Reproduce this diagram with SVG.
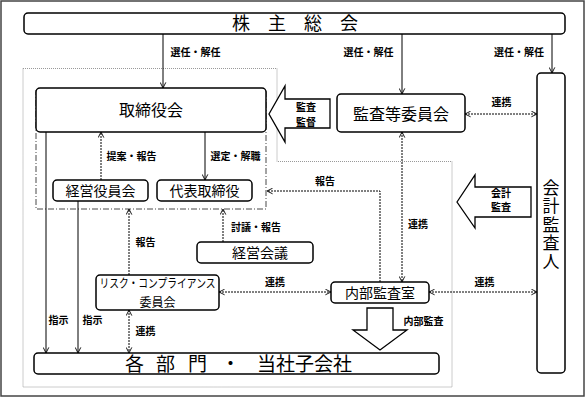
<svg xmlns="http://www.w3.org/2000/svg" width="585" height="398" viewBox="0 0 585 398">
<defs>
<style>
text{font-family:"Noto Sans CJK JP","Noto Sans CJK SC",sans-serif;fill:#000}
.box{fill:#fff;stroke:#000;stroke-width:1.5}
.big{font-size:16px}
.mid{font-size:14px}
.lbl{font-size:10px;font-weight:bold}
.c{text-anchor:middle}
.solid{fill:none;stroke:#000;stroke-width:1}
.dot{fill:none;stroke:#000;stroke-width:1;stroke-dasharray:2 1}
.fat{fill:#fff;stroke:#000;stroke-width:1.3}
.vert{writing-mode:vertical-rl;letter-spacing:1.5px;font-size:17px}
</style>
<marker id="ah" viewBox="0 0 10 10" refX="9" refY="5" markerWidth="7" markerHeight="7" orient="auto-start-reverse" markerUnits="userSpaceOnUse">
<path d="M1,1 L9,5 L1,9" fill="none" stroke="#000" stroke-width="1.3"/>
</marker>
</defs>
<rect x="1" y="1" width="583" height="395" fill="#fff" stroke="#444" stroke-width="1.5"/>
<g id="regions">
<path d="M23,68.5 H277 V161.5 H452 V387 H23 Z" fill="none" stroke="#999" stroke-width="1" stroke-dasharray="1 1"/>
<rect x="36" y="90" width="230" height="119" fill="none" stroke="#333" stroke-width="0.9" stroke-dasharray="6 2 1 2"/>
</g>
<g id="connectors">
<line class="solid" x1="163" y1="34" x2="163" y2="88" marker-end="url(#ah)"/>
<line class="solid" x1="402" y1="34" x2="402" y2="94" marker-end="url(#ah)"/>
<line class="solid" x1="552" y1="34" x2="552" y2="73" marker-end="url(#ah)"/>
<line class="dot" x1="465" y1="114" x2="537" y2="114" marker-start="url(#ah)" marker-end="url(#ah)"/>
<line class="dot" x1="402" y1="132" x2="402" y2="282" marker-start="url(#ah)" marker-end="url(#ah)"/>
<path class="dot" d="M380,282 V191 H267" marker-end="url(#ah)"/>
<line class="dot" x1="101" y1="180" x2="101" y2="132" marker-end="url(#ah)"/>
<line class="solid" x1="205" y1="132" x2="205" y2="180" marker-end="url(#ah)"/>
<line class="dot" x1="223" y1="242" x2="223" y2="209" marker-end="url(#ah)"/>
<line class="dot" x1="129" y1="275" x2="129" y2="209" marker-end="url(#ah)"/>
<line class="dot" x1="219" y1="292" x2="331" y2="292" marker-start="url(#ah)" marker-end="url(#ah)"/>
<line class="dot" x1="429" y1="292" x2="537" y2="292" marker-start="url(#ah)" marker-end="url(#ah)"/>
<line class="solid" x1="46" y1="132" x2="46" y2="353" marker-end="url(#ah)"/>
<line class="solid" x1="78" y1="201" x2="78" y2="353" marker-end="url(#ah)"/>
<line class="dot" x1="129" y1="310" x2="129" y2="353" marker-start="url(#ah)" marker-end="url(#ah)"/>
<polygon class="fat" points="269,114 285,86 285,99 330,99 330,128 285,128 285,142"/>
<polygon class="fat" points="457,202 475,175 475,187 531,187 531,217 475,217 475,228"/>
<polygon class="fat" points="367,308 393,308 393,330 407,330 380,350 353,330 367,330"/>
<text class="lbl c" x="195.5" y="56">選任・解任</text>
<text class="lbl c" x="368.5" y="56">選任・解任</text>
<text class="lbl c" x="519" y="56">選任・解任</text>
<text class="lbl c" x="501.5" y="106">連携</text>
<text class="lbl c" x="306" y="111">監査</text>
<text class="lbl c" x="306" y="126">監督</text>
<text class="lbl c" x="131.5" y="160">提案・報告</text>
<text class="lbl c" x="235.5" y="160">選定・解職</text>
<text class="lbl c" x="325" y="185">報告</text>
<text class="lbl c" x="501" y="197">会計</text>
<text class="lbl c" x="501" y="211">監査</text>
<text class="lbl c" x="418" y="228">連携</text>
<text class="lbl c" x="256" y="231">討議・報告</text>
<text class="lbl c" x="145.5" y="246">報告</text>
<text class="lbl c" x="275" y="286">連携</text>
<text class="lbl c" x="484.5" y="286">連携</text>
<text class="lbl c" x="58.5" y="324">指示</text>
<text class="lbl c" x="92.5" y="324">指示</text>
<text class="lbl c" x="423.5" y="325">内部監査</text>
<text class="lbl c" x="145.5" y="335">連携</text>
</g>
<g id="kabunushi">
<rect class="box" x="24" y="13" width="541" height="21" rx="4"/>
<text class="c" x="295" y="30" font-size="18">株　主　総　会</text>
</g>
<g id="torishimariyakukai">
<rect class="box" x="36" y="88" width="230" height="44" rx="4"/>
<text class="big c" x="151" y="116">取締役会</text>
</g>
<g id="kansatou">
<rect class="box" x="337" y="94" width="128" height="38" rx="4"/>
<text class="big c" x="401" y="120">監査等委員会</text>
</g>
<g id="kaikei">
<rect class="box" x="537" y="73" width="28" height="300" rx="4"/>
<text class="vert" x="551" y="179">会計監査人</text>
</g>
<g id="keieiyakuin">
<rect class="box" x="53" y="180" width="95" height="21" rx="4"/>
<text class="mid c" x="100.5" y="196">経営役員会</text>
</g>
<g id="daihyo">
<rect class="box" x="157" y="180" width="95" height="21" rx="4"/>
<text class="mid c" x="204.5" y="196">代表取締役</text>
</g>
<g id="keieikaigi">
<rect class="box" x="197" y="242" width="116" height="21" rx="4"/>
<text class="mid c" x="260" y="258">経営会議</text>
</g>
<g id="risk">
<rect class="box" x="96" y="275" width="123" height="35" rx="4"/>
<text class="c" x="157.5" y="288" font-size="12" textLength="116" lengthAdjust="spacingAndGlyphs">リスク・コンプライアンス</text>
<text class="c" x="157.5" y="306.5" font-size="12">委員会</text>
</g>
<g id="naibu">
<rect class="box" x="331" y="282" width="98" height="21" rx="4"/>
<text class="mid c" x="380" y="298">内部監査室</text>
</g>
<g id="kakubumon">
<rect class="box" x="34" y="353" width="405" height="21" rx="4"/>
<text font-size="19"><tspan x="125" y="371">各</tspan><tspan x="156" y="371">部</tspan><tspan x="188" y="371">門</tspan><tspan x="221" y="371">・</tspan><tspan x="257" y="371">当社子会社</tspan></text>
</g>
</svg>
